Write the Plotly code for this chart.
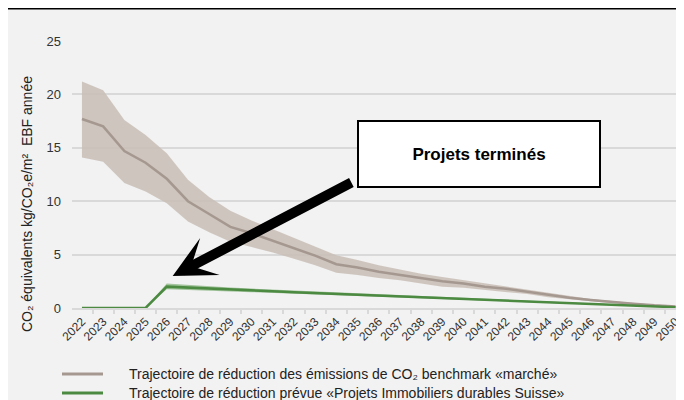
import plotly.graph_objects as go

years = [str(y) for y in range(2022, 2051)]

bench_mid = [17.7, 17.0, 14.7, 13.6, 12.1, 10.0, 8.8, 7.6, 7.0, 6.3, 5.6, 4.9, 4.1, 3.8,
             3.4, 3.1, 2.8, 2.5, 2.3, 2.0, 1.8, 1.5, 1.2, 0.95, 0.75, 0.55, 0.4, 0.25, 0.15]
bench_hi = [21.2, 20.4, 17.6, 16.2, 14.5, 12.0, 10.4, 9.1, 8.2, 7.4, 6.6, 5.8, 4.95, 4.5,
            4.0, 3.6, 3.2, 2.9, 2.6, 2.3, 2.0, 1.7, 1.4, 1.1, 0.85, 0.65, 0.45, 0.3, 0.18]
bench_lo = [14.1, 13.7, 11.7, 10.9, 9.8, 8.1, 7.1, 6.2, 5.7, 5.2, 4.6, 4.0, 3.3, 3.1,
            2.8, 2.6, 2.3, 2.0, 1.9, 1.7, 1.5, 1.3, 1.0, 0.8, 0.65, 0.45, 0.35, 0.2, 0.12]

pids_mid = [0, 0, 0, 0, 2.0, 1.9, 1.8, 1.72, 1.64, 1.56, 1.48, 1.40, 1.32, 1.25,
            1.17, 1.09, 1.01, 0.93, 0.86, 0.78, 0.70, 0.62, 0.55, 0.47, 0.39, 0.31, 0.23, 0.15, 0.07]
pids_hi = [0, 0, 0, 0, 2.3, 2.15, 2.02, 1.92, 1.82, 1.73, 1.64, 1.55, 1.46, 1.38,
           1.29, 1.20, 1.11, 1.02, 0.94, 0.85, 0.76, 0.67, 0.59, 0.50, 0.42, 0.33, 0.25, 0.17, 0.09]
pids_lo = [0, 0, 0, 0, 1.75, 1.7, 1.62, 1.55, 1.48, 1.41, 1.34, 1.27, 1.20, 1.13,
           1.06, 0.99, 0.92, 0.85, 0.79, 0.72, 0.65, 0.58, 0.51, 0.44, 0.37, 0.29, 0.21, 0.13, 0.05]

yticks = [0, 5, 10, 15, 20, 25]
legend_labels = ["Trajectoire de réduction des émissions de CO₂ benchmark «marché»",
                 "Trajectoire de réduction prévue «Projets Immobiliers durables Suisse»"]
y_title = "CO₂ équivalents kg/CO₂e/m²  EBF année"
callout = "Projets terminés"

BROWN_LINE = "#a59890"
BROWN_FILL = "rgba(200,189,181,0.85)"
GREEN_LINE = "#4c8a42"
GREEN_FILL = "rgba(110,165,100,0.6)"
BG = "#f2f2f2"

# page has an 8px body margin: figure is drawn 8px smaller and plot area offset accordingly
W, H = 676, 392
PL, PT, PB = 64, 33, 92          # plot area: ref x 72..684, ref y 41..308


def px(xr):
    return (xr - 72) / 612


def py(yr):
    return (308 - yr) / 267


fig = go.Figure()
fig.add_trace(go.Scatter(x=years, y=bench_lo, mode="lines", line=dict(width=0),
                         showlegend=False, hoverinfo="skip"))
fig.add_trace(go.Scatter(x=years, y=bench_hi, mode="lines", line=dict(width=0),
                         fill="tonexty", fillcolor=BROWN_FILL, showlegend=False, hoverinfo="skip"))
fig.add_trace(go.Scatter(x=years, y=bench_mid, mode="lines",
                         line=dict(color=BROWN_LINE, width=2.5), showlegend=False))
fig.add_trace(go.Scatter(x=years, y=pids_lo, mode="lines", line=dict(width=0),
                         showlegend=False, hoverinfo="skip"))
fig.add_trace(go.Scatter(x=years, y=pids_hi, mode="lines", line=dict(width=0),
                         fill="tonexty", fillcolor=GREEN_FILL, showlegend=False, hoverinfo="skip"))
fig.add_trace(go.Scatter(x=years, y=pids_mid, mode="lines",
                         line=dict(color=GREEN_LINE, width=2.5), showlegend=False))

fig.update_layout(
    width=W, height=H,
    paper_bgcolor=BG, plot_bgcolor=BG,
    margin=dict(l=PL, r=0, t=PT, b=PB, autoexpand=False),
    font=dict(family="Liberation Sans, Arial, sans-serif", color="#404040"),
    showlegend=False,
)
fig.update_xaxes(
    type="category", range=[-0.47, 28.4],
    tickangle=-45, tickfont=dict(size=12, color="#333333"),
    showgrid=False, showline=True, linecolor="#d9d9d9", linewidth=2,
    ticks="outside", ticklen=4, tickcolor="#d9d9d9", tickwidth=2,
    tickson="boundaries", automargin=False,
)
fig.update_yaxes(
    range=[0, 25], tickvals=yticks, showgrid=True, gridcolor="#d9d9d9", gridwidth=1.5,
    zeroline=False, showline=False, tickfont=dict(size=13, color="#333333"),
    ticklabelstandoff=10, automargin=False,
)

# callout box
fig.add_annotation(x=18.73, y=14.38, xref="x", yref="y", text="<b>" + callout + "</b>",
                   showarrow=False, font=dict(family="Liberation Sans, Arial", size=17, color="black"),
                   bgcolor="white", bordercolor="black", borderwidth=2,
                   width=238, height=62)
# arrow
fig.add_annotation(x=4.28, y=3.0, xref="x", yref="y", ax=12.78, ay=11.83,
                   axref="x", ayref="y", text="", showarrow=True,
                   arrowhead=3, arrowsize=0.7, arrowwidth=10, arrowcolor="black", standoff=0)

# y axis title
fig.add_annotation(x=px(17), y=py(204), xref="paper", yref="paper", text=y_title, textangle=-90,
                   showarrow=False, font=dict(size=14, color="#222"))

# top rule and a peek of the cut-off title subscript
fig.add_shape(type="line", xref="paper", yref="paper", x0=px(8), x1=1.0,
              y0=py(7.5), y1=py(7.5), line=dict(color="black", width=4))

# legend (manual)
for i, (lab, col) in enumerate(zip(legend_labels, [BROWN_LINE, GREEN_LINE])):
    ypx = 374 + 19 * i
    fig.add_shape(type="line", xref="paper", yref="paper",
                  x0=px(62), x1=px(103), y0=py(ypx), y1=py(ypx),
                  line=dict(color=col, width=3))
    fig.add_annotation(x=px(127), y=py(ypx), xref="paper", yref="paper", text=lab,
                       xanchor="left", yanchor="middle", showarrow=False,
                       font=dict(size=14, color="#222"))

fig.write_html("out.html")
